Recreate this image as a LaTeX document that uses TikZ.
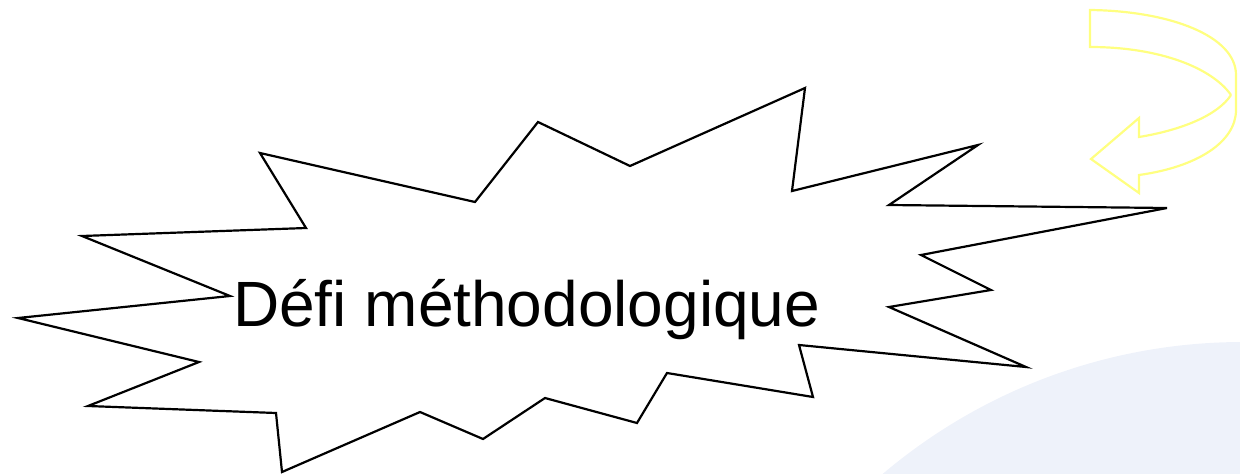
\documentclass[tikz,border=0pt]{standalone}
\usepackage{fontspec}
\setmainfont{Liberation Sans}
\usetikzlibrary{positioning}
\definecolor{backblue}{RGB}{238,242,250}
\definecolor{arrowyellow}{RGB}{255,255,128}

\begin{document}
\begin{tikzpicture}[
    x=1pt, y=-1pt,
    burst/.style={draw=black, fill=white, line width=2.2pt, line join=miter},
    bendarrow/.style={draw=arrowyellow, line width=2.2pt, line join=miter},
    backdisc/.style={fill=backblue, draw=none},
    title/.style={font=\fontsize{64}{70}\selectfont, inner sep=0pt, anchor=base west},
]
\useasboundingbox (0,0) rectangle (1240,474);

% --- pale disc in the lower right corner ---
\begin{scope}
  \clip (0,0) rectangle (1240,474);
  \fill[backdisc] (1243,900) circle[radius=558];
\end{scope}

% --- explosion outline ---
\draw[burst] (260,153) -- (475,202) -- (538,122) -- (630,166) -- (805,88)
  -- (792,191) -- (978,145) -- (889,205) -- (1167,208) -- (921,255)
  -- (991,290) -- (889,307) -- (1026,367) -- (799,345) -- (813,397)
  -- (667,373) -- (637,423) -- (545,398) -- (483,439) -- (420,412)
  -- (282,472) -- (276,413) -- (88,406) -- (199,362) -- (18,318)
  -- (230,296) -- (82,236) -- (306,228) -- cycle;

% --- label ---
\node[title] (defi) at (233,326) {Défi méthodologique};

% --- curved arrow, top right ---
\draw[bendarrow] (1231,95) .. controls (1212,68) and (1160,47) .. (1090,47)
  -- (1090,10) .. controls (1170,11) and (1236,36) .. (1236,75)
  -- (1236,110) .. controls (1236,142) and (1197,167) .. (1139,175)
  -- (1139,193) -- (1091,159) -- (1139,118) -- (1139,137)
  .. controls (1182,130) and (1218,115) .. (1231,95);
\end{tikzpicture}
\end{document}
